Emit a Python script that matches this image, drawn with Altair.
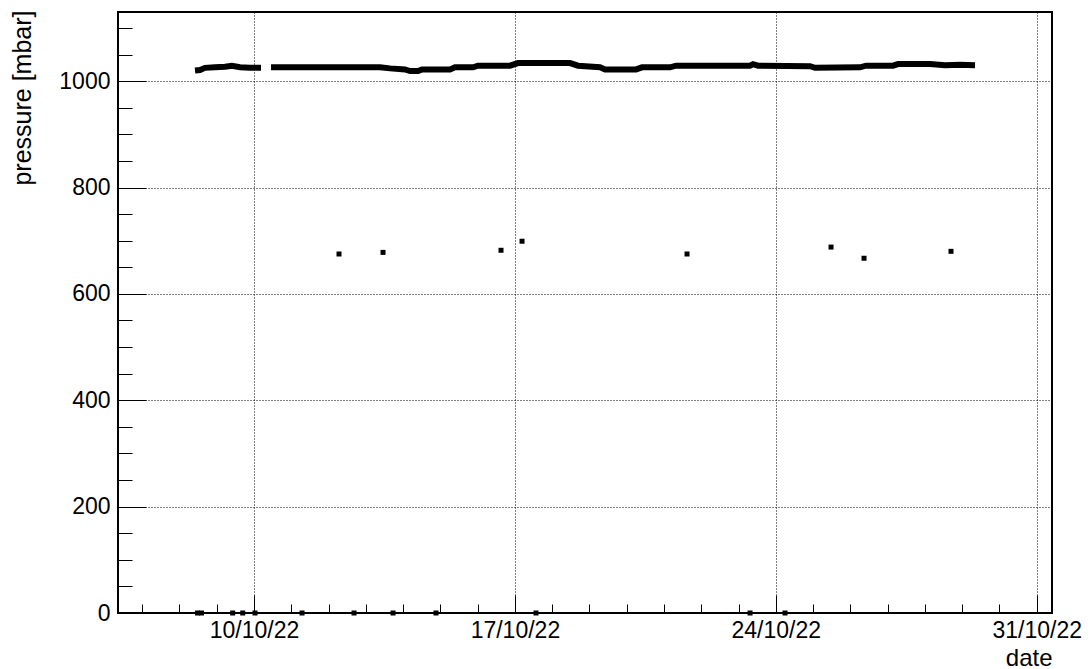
import altair as alt
import pandas as pd

# Pressure readings (mbar), two continuous stretches separated by a short gap
line_times_a = [
    "2022-10-08T10:00:00Z", "2022-10-08T13:13:00Z", "2022-10-08T16:26:00Z",
    "2022-10-08T22:53:00Z", "2022-10-09T05:19:00Z", "2022-10-09T09:50:00Z",
    "2022-10-09T14:59:00Z", "2022-10-09T21:26:00Z", "2022-10-10T04:30:00Z",
]
line_values_a = [1020, 1021, 1025, 1026, 1027, 1029, 1026, 1025, 1025]

line_times_b = [
    "2022-10-10T10:57:00Z", "2022-10-11T05:37:00Z", "2022-10-12T07:22:00Z",
    "2022-10-13T09:08:00Z", "2022-10-13T15:34:00Z", "2022-10-14T01:14:00Z",
    "2022-10-14T04:28:00Z", "2022-10-14T09:36:00Z", "2022-10-14T12:11:00Z",
    "2022-10-15T06:13:00Z", "2022-10-15T09:26:00Z", "2022-10-15T21:02:00Z",
    "2022-10-16T00:14:00Z", "2022-10-16T20:51:00Z", "2022-10-17T02:00:00Z",
    "2022-10-18T11:30:00Z", "2022-10-18T16:38:00Z", "2022-10-19T06:49:00Z",
    "2022-10-19T10:02:00Z", "2022-10-20T06:00:00Z", "2022-10-20T09:52:00Z",
    "2022-10-21T03:53:00Z", "2022-10-21T07:45:00Z", "2022-10-23T07:24:00Z",
    "2022-10-23T09:20:00Z", "2022-10-23T12:33:00Z", "2022-10-24T22:02:00Z",
    "2022-10-25T01:15:00Z", "2022-10-26T06:14:00Z", "2022-10-26T10:06:00Z",
    "2022-10-27T03:29:00Z", "2022-10-27T06:42:00Z", "2022-10-28T03:19:00Z",
    "2022-10-28T12:58:00Z", "2022-10-28T22:38:00Z", "2022-10-29T08:17:00Z",
]
line_values_b = [
    1026, 1026, 1026, 1026, 1024, 1022, 1019, 1019, 1022,
    1022, 1026, 1026, 1029, 1029, 1034, 1034, 1029, 1026,
    1022, 1022, 1026, 1026, 1029, 1029, 1032, 1029, 1028,
    1025, 1026, 1029, 1029, 1032, 1032, 1030, 1031, 1030,
]

# Isolated low readings
spike_times = [
    "2022-10-12T06:44:00Z", "2022-10-13T11:04:00Z", "2022-10-16T15:03:00Z",
    "2022-10-17T04:35:00Z", "2022-10-21T14:50:00Z", "2022-10-25T11:34:00Z",
    "2022-10-26T08:48:00Z", "2022-10-28T16:49:00Z",
]
spike_values = [675, 678, 682, 699, 675, 688, 667, 680]

# Dropouts recorded as zero
zero_times = [
    "2022-10-08T11:37:00Z", "2022-10-08T14:11:00Z", "2022-10-09T10:16:00Z",
    "2022-10-09T16:44:00Z", "2022-10-10T00:39:00Z", "2022-10-11T06:55:00Z",
    "2022-10-12T16:24:00Z", "2022-10-13T17:31:00Z", "2022-10-14T21:11:00Z",
    "2022-10-17T13:35:00Z", "2022-10-23T07:24:00Z", "2022-10-24T05:56:00Z",
]
zero_values = [0, 0, 0, 0, 0, 0, 0, 0, 0, 0, 0, 0]

# Axis ticks
x_major_days = ["2022-10-10", "2022-10-17", "2022-10-24", "2022-10-31"]
x_minor_days = [d.strftime("%Y-%m-%d") for d in pd.date_range("2022-10-07", "2022-10-31", freq="D")]
y_major = [0, 200, 400, 600, 800, 1000]
y_minor = list(range(0, 1101, 50))

x_domain = ["2022-10-06T08:25:00Z", "2022-10-31T09:51:00Z"]
y_domain = [0, 1130]


def ms(day):
    return int(pd.Timestamp(day, tz="UTC").timestamp() * 1000)


x_major_ms = [ms(d) for d in x_major_days]
x_minor_ms = [ms(d) for d in x_minor_days]

line_df = pd.DataFrame({
    "time": line_times_a + line_times_b,
    "pressure": line_values_a + line_values_b,
    "run": ["a"] * len(line_times_a) + ["b"] * len(line_times_b),
})
spike_df = pd.DataFrame({"time": spike_times, "pressure": spike_values})
zero_df = pd.DataFrame({"time": zero_times, "pressure": zero_values})

FONT = "Liberation Sans"
x_scale = alt.Scale(type="utc", domain=x_domain, nice=False)
y_scale = alt.Scale(domain=y_domain, nice=False, zero=False)

# Axis carrying labels, titles and dotted grid
x_main_axis = alt.Axis(
    orient="bottom", values=x_major_ms, format="%d/%m/%y", grid=True,
    gridDash=[1, 2], gridColor="black", gridWidth=1, ticks=False, domain=False,
    labelFont=FONT, labelFontSize=23, labelColor="black", labelPadding=6,
    labelFlush=False, labelOverlap=False,
    title="date", titleFont=FONT, titleFontSize=24, titleFontWeight="normal",
    titleColor="black", titleX=934, titleY=52, titleAlign="right",
    titleBaseline="alphabetic", titleAnchor="end",
)
y_main_axis = alt.Axis(
    orient="left", values=y_major, format="d", grid=True, gridDash=[1, 2],
    gridColor="black", gridWidth=1, ticks=False, domain=False,
    labelFont=FONT, labelFontSize=23, labelColor="black", labelPadding=8,
    labelFlush=False, labelOverlap=False,
    title="pressure [mbar]", titleFont=FONT, titleFontSize=25,
    titleFontWeight="normal", titleColor="black", titleAngle=270,
    titleX=-96, titleY=-2, titleAlign="right", titleBaseline="middle",
    titleAnchor="end",
)


def tick_axis(orient, values, size):
    # ticks pointing into the plot: shift the axis inward by its tick length
    return alt.Axis(
        orient=orient, values=values, ticks=True, tickSize=size, tickColor="black",
        tickWidth=1, offset=-size, labels=False, domain=False, grid=False, title=None,
    )


line = alt.Chart(line_df).mark_line(color="black", strokeWidth=6, strokeCap="butt").encode(
    x=alt.X("time:T", scale=x_scale, axis=x_main_axis),
    y=alt.Y("pressure:Q", scale=y_scale, axis=y_main_axis),
    detail="run:N",
)

spikes = alt.Chart(spike_df).mark_square(size=25, color="black", opacity=1).encode(
    x=alt.X("time:T", scale=x_scale, axis=tick_axis("bottom", x_major_ms, 18)),
    y=alt.Y("pressure:Q", scale=y_scale, axis=tick_axis("left", y_major, 28)),
)

zeros = alt.Chart(zero_df).mark_square(size=25, color="black", opacity=1).encode(
    x=alt.X("time:T", scale=x_scale, axis=tick_axis("bottom", x_minor_ms, 9)),
    y=alt.Y("pressure:Q", scale=y_scale, axis=tick_axis("left", y_minor, 14)),
)

chart = (
    alt.layer(line, spikes, zeros)
    .resolve_axis(x="independent", y="independent")
    .properties(
        width=934, height=601,
        padding={"left": 118, "top": 12, "right": 39, "bottom": 56},
        autosize=alt.AutoSizeParams(type="none"),
        background="white",
    )
    .configure_view(stroke="black", strokeWidth=2)
)

chart.save("out.html", embed_options={"renderer": "svg", "actions": False})
